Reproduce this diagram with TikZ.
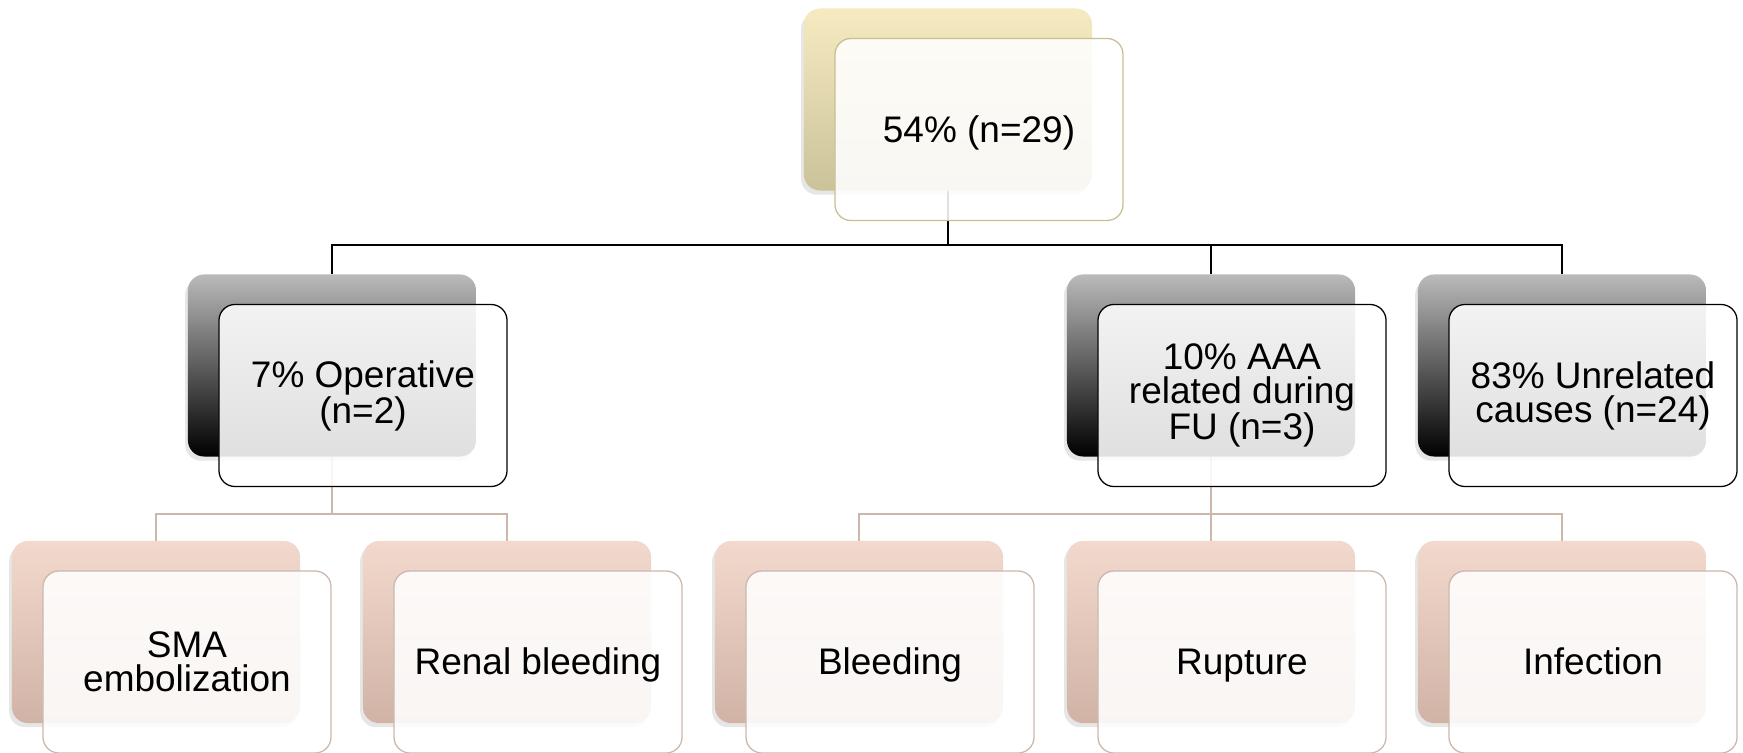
\documentclass[tikz,border=0pt]{standalone}
\usepackage{fontspec}
\setmainfont{Liberation Sans}
\usetikzlibrary{calc,shadows,backgrounds}
\definecolor{sandtop}{HTML}{F6EAC0}
\definecolor{sandbot}{HTML}{CBC29A}
\definecolor{sandline}{HTML}{C9BD94}
\definecolor{rosetop}{HTML}{F3D9CD}
\definecolor{rosebot}{HTML}{D0B3A5}
\definecolor{roseline}{HTML}{CBB7AC}
\newcommand{\lstrut}{\rule[-0.212em]{0pt}{1.117em}}
\tikzset{
  backbox/.style   = {rounded corners=0.4cm, minimum width=7.2cm, minimum height=4.55cm,
                      inner sep=0pt, draw=none,
                      drop shadow={shadow xshift=-2pt, shadow yshift=-3pt, opacity=0.2}},
  frontbox/.style  = {rounded corners=0.4cm, minimum width=7.2cm, minimum height=4.55cm,
                      inner sep=2pt, fill=white, fill opacity=0.88, text opacity=1,
                      line width=0.9pt, align=center, xshift=0.775cm, yshift=-0.75cm,
                      font=\fontsize{26.3}{24.2}\selectfont},
  rootback/.style  = {backbox, top color=sandtop, bottom color=sandbot},
  rootfront/.style = {frontbox, draw=sandline},
  grpback/.style   = {backbox, top color=black!27, bottom color=black},
  grpfront/.style  = {frontbox, draw=black},
  leafback/.style  = {backbox, top color=rosetop, bottom color=rosebot},
  leaffront/.style = {frontbox, draw=roseline},
  link/.style      = {draw=black, line width=0.9pt},
  sublink/.style   = {draw=roseline, line width=0.9pt},
}
\begin{document}
\begin{tikzpicture}[x=0.025cm, y=-0.025cm]
\useasboundingbox (0,0) rectangle (1743,753);
% root
\node[rootback]  (top-b) at (948,99.5) {};
\node[rootfront] (top)   at (top-b) {\lstrut 54\% (n=29)};
% second level
\node[grpback]  (op-b)  at (332,365.5) {};
\node[grpfront] (op)    at (op-b) {7\% Operative\\(n=2)};
\node[grpback]  (aaa-b) at (1211,365.5) {};
\node[grpfront] (aaa)   at (aaa-b) {10\% AAA\\related during\\FU (n=3)};
\node[grpback]  (un-b)  at (1562,365.5) {};
\node[grpfront] (un)    at (un-b) {83\% Unrelated\\causes (n=24)};
% third level
\node[leafback]  (sma-b) at (156,632) {};
\node[leaffront] (sma)   at (sma-b) {SMA\\embolization};
\node[leafback]  (ren-b) at (507,632) {};
\node[leaffront] (ren)   at (ren-b) {\lstrut Renal bleeding};
\node[leafback]  (bl-b)  at (859,632) {};
\node[leaffront] (bl)    at (bl-b) {\lstrut Bleeding};
\node[leafback]  (rup-b) at (1211,632) {};
\node[leaffront] (rup)   at (rup-b) {\lstrut Rupture};
\node[leafback]  (inf-b) at (1562,632) {};
\node[leaffront] (inf)   at (inf-b) {\lstrut Infection};
% connectors
\coordinate (bus1) at (0,245);
\coordinate (bus2) at (0,514);
\begin{scope}[on background layer]
  \draw[link] (top-b.south) -- (top-b.south |- bus1);
  \draw[link] (op-b.north) |- (un-b.north |- bus1) -- (un-b.north);
  \draw[link] (aaa-b.north) -- (aaa-b.north |- bus1);
  \draw[sublink] (op-b.south) -- (op-b.south |- bus2);
  \draw[sublink] (sma-b.north) |- (ren-b.north |- bus2) -- (ren-b.north);
  \draw[sublink] (aaa-b.south) -- (aaa-b.south |- bus2);
  \draw[sublink] (bl-b.north) |- (inf-b.north |- bus2) -- (inf-b.north);
  \draw[sublink] (rup-b.north) -- (rup-b.north |- bus2);
\end{scope}
\end{tikzpicture}
\end{document}
